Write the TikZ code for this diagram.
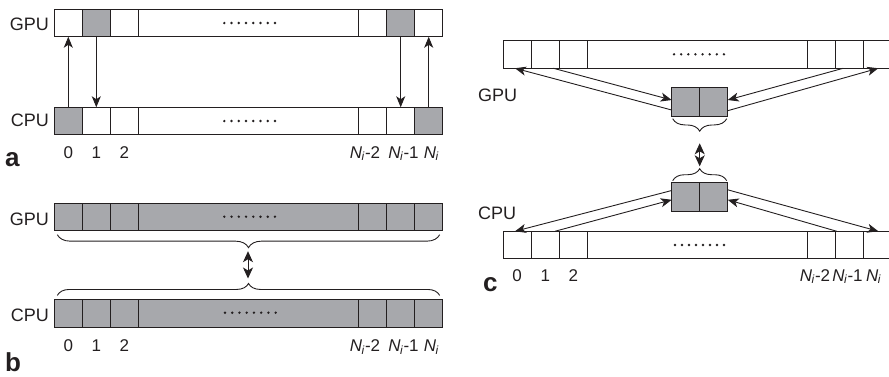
\documentclass[tikz,border=0pt]{standalone}
\usepackage{fontspec}
\setmainfont{Liberation Sans}
\usetikzlibrary{arrows.meta,decorations.pathreplacing,calc}
\definecolor{cellgray}{RGB}{167,168,172}
\definecolor{ink}{RGB}{35,31,32}
\newcommand\Ni{\textit{N}\textsubscript{\kern-0.5pt\textit{i}}}
\begin{document}
\begin{tikzpicture}[x=1pt,y=-1pt,
  cell/.style={draw=ink, line width=0.9pt, minimum height=27.5pt, inner sep=0pt, outer sep=0pt},
  buf/.style={cell, fill=cellgray, minimum width=28pt, minimum height=29pt},
  arr/.style={draw=ink, line width=0.9pt, -{Stealth[length=11pt,width=9pt,inset=3pt]}},
  darr/.style={draw=ink, line width=0.9pt, {Stealth[length=11pt,width=10pt,inset=3pt]}-{Stealth[length=11pt,width=10pt,inset=3pt]}},
  bracedec/.style={draw=ink, line width=0.9pt, decorate, decoration={brace, amplitude=#1}},
  lbl/.style={inner sep=0pt, font=\fontsize{17}{20}\selectfont, text=ink},
  side/.style={inner sep=0pt, font=\fontsize{18}{21}\selectfont, text=ink, anchor=base east},
  panel/.style={inner sep=0pt, font=\fontsize{26}{30}\selectfont\bfseries, text=ink, anchor=base west}]
\useasboundingbox (0,0) rectangle (889,376);
\clip (0,0) rectangle (889,376);

% ---------- panel a ----------
\foreach \n/\c/\w/\f in {0/14/28/white, 1/42/28/cellgray, 2/70/28/white, m/194.2/220.4/white, n2/318.4/28/white, n1/346.4/28/cellgray, n/374.4/28/white}
  \node[cell, minimum width=\w, fill=\f] (ga\n) at (54.3+\c,23) {};
\foreach \n/\c/\w/\f in {0/14/28/cellgray, 1/42/28/white, 2/70/28/white, m/194.2/220.4/white, n2/318.4/28/white, n1/346.4/28/white, n/374.4/28/cellgray}
  \node[cell, minimum width=\w, fill=\f] (ca\n) at (54.3+\c,121) {};
\foreach \k in {0,...,7} {
  \fill[ink] (224.3+\k*7.24,23) circle (1.3);
  \fill[ink] (224.3+\k*7.24,121) circle (1.3);
}
\draw[arr] (ca0.north) -- (ga0.south);
\draw[arr] (ga1.south) -- (ca1.north);
\draw[arr] (gan1.south) -- (can1.north);
\draw[arr] (can.north) -- (gan.south);
\node[side] (agpu) at (49,30.5) {GPU};
\node[side] (acpu) at (49,126.7) {CPU};
\node[lbl, anchor=base] (a0) at (68.3,158.3) {0};
\node[lbl, anchor=base] (a1) at (96.3,158.3) {1};
\node[lbl, anchor=base] (a2) at (124.3,158.3) {2};
\node[lbl, anchor=base] (an2) at (365,158.3) {\Ni-2};
\node[lbl, anchor=base] (an1) at (403.5,158.3) {\Ni-1};
\node[lbl, anchor=base] (an) at (431.5,158.3) {\Ni};
\node[panel] (pa) at (5,166.7) {a};

% ---------- panel b ----------
\foreach \n/\c/\w in {0/14/28, 1/42/28, 2/70/28, m/194.2/220.4, n2/318.4/28, n1/346.4/28, n/374.4/28} {
  \node[cell, minimum width=\w, fill=cellgray] (gb\n) at (54.3+\c,216.9) {};
  \node[cell, minimum width=\w, fill=cellgray] (cb\n) at (54.3+\c,313.2) {};
}
\foreach \k in {0,...,7} {
  \fill[ink] (224.3+\k*7.24,216.7) circle (1.3);
  \fill[ink] (225+\k*7.24,312.7) circle (1.3);
}
\draw[bracedec=13pt] ([shift={(-3,4)}]gbn.south east) -- ([shift={(3,4)}]gb0.south west);
\draw[bracedec=12pt] ([shift={(3,-4)}]cb0.north west) -- ([shift={(-3,-4)}]cbn.north east);
\coordinate (bt) at (248,251.2);
\coordinate (bb) at (248,278.5);
\draw[darr] (bt) -- (bb);
\node[side] (bgpu) at (49,225) {GPU};
\node[side] (bcpu) at (49,321.7) {CPU};
\node[lbl, anchor=base] (b0) at (68.3,351.7) {0};
\node[lbl, anchor=base] (b1) at (96.3,351.7) {1};
\node[lbl, anchor=base] (b2) at (124.3,351.7) {2};
\node[lbl, anchor=base] (bn2) at (365,351.7) {\Ni-2};
\node[lbl, anchor=base] (bn1) at (403.5,351.7) {\Ni-1};
\node[lbl, anchor=base] (bn) at (431.5,351.7) {\Ni};
\node[panel] (pb) at (5,371.5) {b};

% ---------- panel c ----------
\foreach \n/\c/\w in {0/14/28, 1/42/28, 2/70/28, m/194.2/220.4, n2/318.4/28, n1/346.4/28, n/374.4/28} {
  \node[cell, minimum width=\w, fill=white] (gc\n) at (503.3+\c,54.5) {};
  \node[cell, minimum width=\w, fill=white] (cc\n) at (503.3+\c,245) {};
}
\foreach \k in {0,...,7} {
  \fill[ink] (674+\k*7.14,54.3) circle (1.3);
  \fill[ink] (675+\k*7.0,245) circle (1.3);
}
\node[buf] (gbl) at (685.7,102.2) {};
\node[buf] (gbr) at (713.7,102.2) {};
\node[buf] (cbl) at (685.7,196.7) {};
\node[buf] (cbr) at (713.7,196.7) {};
% GPU side arrows
\draw[arr] ([shift={(0,-6.7)}]gbl.south west) -- ([shift={(11.7,0)}]gc0.south west);
\draw[arr] ([shift={(-6,0)}]gc1.south east) -- ([shift={(0,-16.7)}]gbl.south west);
\draw[arr] ([shift={(7.6,0)}]gcn1.south west) -- ([shift={(0,-16.7)}]gbr.south east);
\draw[arr] ([shift={(0,-6)}]gbr.south east) -- ([shift={(14.6,0)}]gcn.south west);
% CPU side arrows
\draw[arr] ([shift={(0,8.3)}]cbl.north west) -- ([shift={(11.7,0)}]cc0.north west);
\draw[arr] ([shift={(-4.3,0)}]cc1.north east) -- ([shift={(0,17.6)}]cbl.north west);
\draw[arr] ([shift={(0,7.6)}]cbr.north east) -- ([shift={(14.6,0)}]ccn.north west);
\draw[arr] ([shift={(1,0)}]ccn1.north west) -- ([shift={(0,17.6)}]cbr.north east);
% braces and exchange arrow
\draw[bracedec=12.5pt] ([shift={(-1,2)}]gbr.south east) -- ([shift={(1,2)}]gbl.south west);
\draw[bracedec=12pt] ([shift={(1,-1.5)}]cbl.north west) -- ([shift={(-1,-1.5)}]cbr.north east);
\coordinate (ct) at (699.7,143.3);
\coordinate (cb) at (699.7,166.3);
\draw[darr] (ct) -- (cb);
\node[side, anchor=base west] (cgpu) at (478,101) {GPU};
\node[side, anchor=base west] (ccpu) at (478,219.3) {CPU};
\node[lbl, anchor=base] (c0) at (517,281) {0};
\node[lbl, anchor=base] (c1) at (545.3,281) {1};
\node[lbl, anchor=base] (c2) at (573.3,281) {2};
\node[lbl, anchor=base] (cn2) at (815,281) {\Ni-2};
\node[lbl, anchor=base] (cn1) at (847.5,281) {\Ni-1};
\node[lbl, anchor=base west] (cn) at (866,281) {\Ni};
\node[panel] (pc) at (483,291.7) {c};
\end{tikzpicture}
\end{document}
